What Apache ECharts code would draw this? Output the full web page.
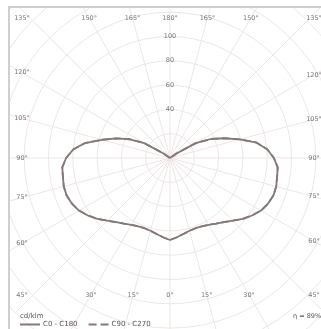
<!DOCTYPE html>
<html><head><meta charset="utf-8">
<script src="https://cdn.jsdelivr.net/npm/echarts@6/dist/echarts.min.js"></script>
<style>
html,body{margin:0;padding:0;background:#fff;width:321px;height:329px;overflow:hidden}
#frame{position:absolute;left:8px;top:6px;width:320px;height:330px;border-left:2px solid #cfcfcf;border-top:2px solid #cfcfcf;box-sizing:border-box}
#chart{position:absolute;left:10px;top:8px;width:311px;height:321px;}
</style></head><body>
<div id="frame"></div><div id="chart"></div>
<script>
// photometric angle (deg from nadir) and intensities (cd/klm)
const theta = [0,5,10,15,20,25,30,35,40,45,50,55,60,65,70,75,80,85,90,95,100,105,110,115,120,125,130,135,140,145,150,155,160,165,170,175,180];
const C0   = [67.5,65.5,63.5,62,61.5,62,63.5,66,69,73,78,82.5,86.5,89,90.5,90.5,89.5,89,85.5,80.5,72.5,59.5,47.5,37,24.5,6.5,0,0,0,0,0,0,0,0,0,0,0];
const C180 = [67.5,65.5,63.5,62,61.5,62,63.5,66,69,73,78,82.5,86.5,89,90.5,90.5,89.5,89,85.5,80,71,58,47,36.5,24.5,6.5,0,0,0,0,0,0,0,0,0,0,0];
const C90  = C0.slice();
const C270 = C180.slice();
const sideAngles = [0,15,30,45,60,75,90,105,120,135,150,165,180];
const ringValues = [40,60,80,100];
const seriesNames = ['C0 - C180','C90 - C270'];

const pxPerUnit = 24.3/20;
const center = [160,150];
const edge = {left:-148,right:144,top:-140,bottom:137};

function planeData(right,left){
  const d=[];
  for(let i=theta.length-1;i>=0;i--) d.push([left[i],180+theta[i]]);
  for(let i=1;i<theta.length;i++) d.push([right[i],180-theta[i]]);
  return d;
}
function labelPos(phi){
  const a=phi*Math.PI/180, s=Math.sin(a), c=-Math.cos(a);
  const ex = s<0?edge.left:edge.right, ey = c<0?edge.top:edge.bottom;
  const tx = Math.abs(s)>1e-9?ex/s:Infinity, ty=Math.abs(c)>1e-9?ey/c:Infinity;
  let dx,dy;
  if(Math.abs(Math.abs(s)-Math.abs(c))<1e-6){dx=ex;dy=ey;}
  else if(tx<ty){dx=ex;dy=c*tx;} else {dy=ey;dx=s*ty;}
  return [Math.hypot(dx,dy)/pxPerUnit,(Math.atan2(dx,-dy)*180/Math.PI+360)%360];
}
const angleLabelData=[];
sideAngles.forEach(t=>{
  angleLabelData.push({name:t+'°',value:labelPos(180-t)});
  if(t!==0&&t!==180) angleLabelData.push({name:t+'°',value:labelPos(180+t)});
});
const ringLabelData = ringValues.map(v=>({name:String(v),value:[v,0]}));

const grid='#eee5e5';
const chart=echarts.init(document.getElementById('chart'));
chart.setOption({
  animation:false,
  textStyle:{fontFamily:'DejaVu Sans'},
  title:[
    {text:'cd/klm',left:5,top:300,textStyle:{fontSize:7,color:'#555',fontWeight:'normal'}},
    {text:'η = 89%',left:278,top:300,textStyle:{fontSize:6.5,color:'#555',fontWeight:'normal'}}
  ],
  legend:{data:seriesNames,left:4,top:308,itemWidth:20,itemHeight:6,itemGap:10,
    itemStyle:{color:'rgba(0,0,0,0)',borderColor:'rgba(0,0,0,0)',borderWidth:0},
    textStyle:{fontSize:7,color:'#555',padding:[0,0,0,-2]}},
  polar:{center:center,radius:180*pxPerUnit},
  angleAxis:{type:'value',min:0,max:360,interval:15,startAngle:90,clockwise:true,
    axisLine:{show:false},axisTick:{show:false},axisLabel:{show:false},
    splitLine:{show:true,lineStyle:{color:grid,width:1}}},
  radiusAxis:{type:'value',min:0,max:180,interval:20,
    axisLine:{show:false},axisTick:{show:false},axisLabel:{show:false},
    splitLine:{show:true,lineStyle:{color:grid,width:1}}},
  series:[
    {name:seriesNames[1],type:'line',coordinateSystem:'polar',symbol:'none',
     data:planeData(C90,C270),lineStyle:{color:'#857878',width:1.8,type:'dashed'},itemStyle:{color:'#857878'},z:3},
    {name:seriesNames[0],type:'line',coordinateSystem:'polar',symbol:'none',
     data:planeData(C0,C180),lineStyle:{color:'#857878',width:1.8},itemStyle:{color:'#857878'},z:4},
    {type:'scatter',coordinateSystem:'polar',symbolSize:1,itemStyle:{color:'rgba(0,0,0,0)'},silent:true,
     data:angleLabelData,label:{show:true,position:'inside',formatter:'{b}',fontSize:6.5,color:'#555'},z:5},
    {type:'scatter',coordinateSystem:'polar',symbolSize:1,itemStyle:{color:'rgba(0,0,0,0)'},silent:true,
     data:ringLabelData,label:{show:true,position:'inside',formatter:'{b}',fontSize:6.5,color:'#555'},z:5}
  ]
});
</script>
</body></html>
